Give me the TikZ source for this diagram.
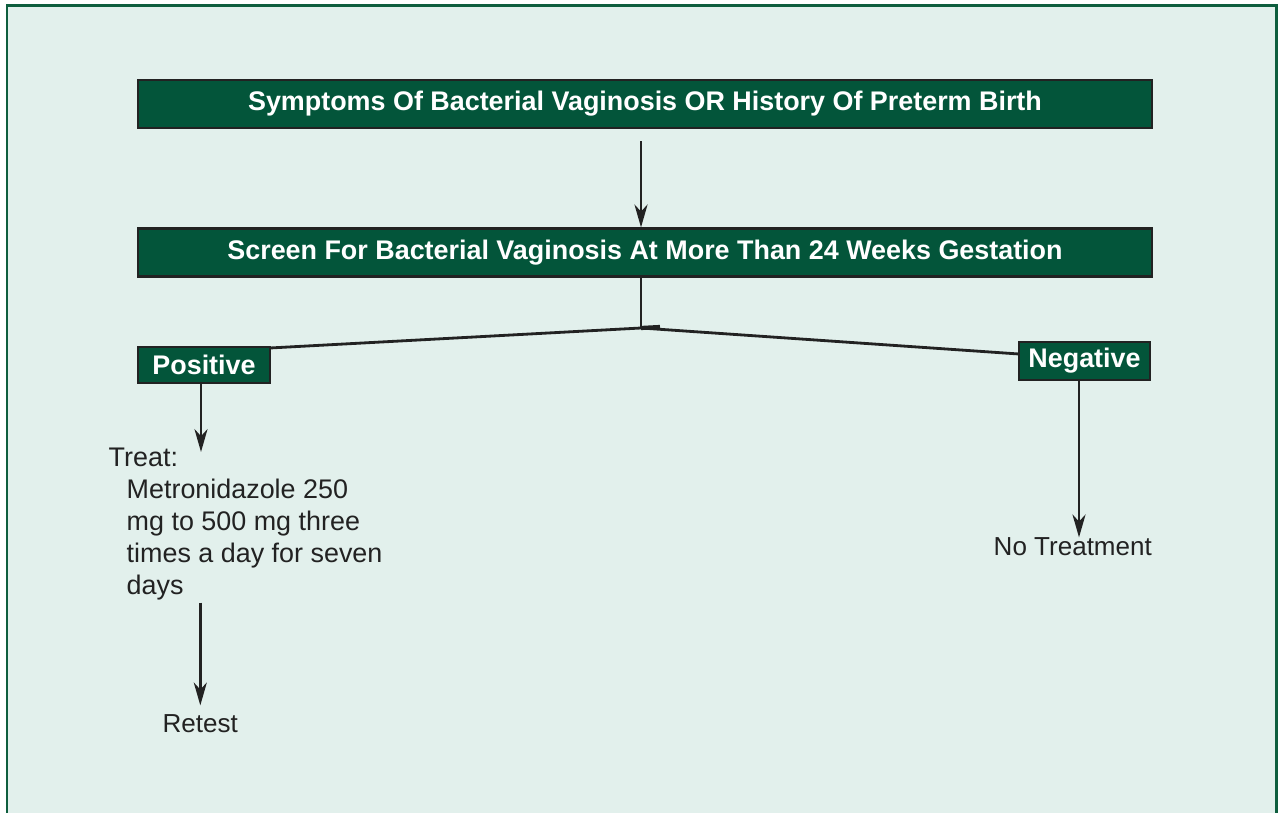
\documentclass[tikz,border=0pt]{standalone}
\usepackage{fontspec}
\setmainfont{Liberation Sans}
\usetikzlibrary{arrows.meta,calc}
\definecolor{darkgreen}{HTML}{03553A}
\definecolor{framegreen}{HTML}{0E5E3E}
\definecolor{mint}{HTML}{E2F0EC}
\definecolor{inkgray}{HTML}{222222}

\begin{document}
\begin{tikzpicture}[x=0.01cm,y=-0.01cm,
    greenbox/.style={draw=inkgray, line width=0.6pt, fill=darkgreen, text=white,
      font=\fontsize{7.65}{9}\selectfont\bfseries, inner sep=0pt},
    plaintext/.style={text=inkgray, font=\fontsize{7.4}{9.05}\selectfont, inner sep=0pt},
    link/.style={draw=inkgray, line width=0.8pt},
    arrow/.style={link, -{Stealth[length=6.5pt,width=3.7pt,inset=2pt]}}]
    \useasboundingbox (0,0) rectangle (1280,813);
    % background and frame
    \fill[mint] (7,6) rectangle (1276,813);
    \draw[framegreen, line width=0.85pt] (7,813) -- (7,6) -- (1276,6) -- (1276,813);
    % boxes
    \node[greenbox, minimum width=10.14cm, minimum height=0.48cm] (sym) at (645,104)
      {Symptoms Of Bacterial Vaginosis OR History Of Preterm Birth};
    \node[greenbox, minimum width=10.14cm, minimum height=0.48cm] (scr) at (645,252.5)
      {Screen For Bacterial Vaginosis At More Than 24 Weeks Gestation};
    \node[greenbox, minimum width=1.32cm, minimum height=0.36cm] (pos) at (204,365) {Positive};
    \node[greenbox, minimum width=1.31cm, minimum height=0.38cm] (neg) at (1084.5,361) {Negative};
    \coordinate (split) at (641,328);
    % texts
    \node[plaintext, font=\fontsize{7.65}{9.1}\selectfont, anchor=north west, align=left] (treat) at (108,447)
      {Treat:\\
       \hspace*{0.18cm}Metronidazole 250\\
       \hspace*{0.18cm}mg to 500 mg three\\
       \hspace*{0.18cm}times a day for seven\\
       \hspace*{0.18cm}days};
    \node[plaintext, anchor=base west] (retest) at (162,732) {Retest};
    \node[plaintext, anchor=base west] (notreat) at (993,555) {No Treatment};
    % connectors
    \draw[arrow, shorten <=0.12cm] (split |- sym.south) -- (split |- scr.north);
    \draw[link] (split |- scr.south) -- (split);
    \draw[link] (split) -- ($(pos.north east)+(0,2)$);
    \draw[link] (split) -- ($(neg.north west)+(0,13)$);
    \draw[link, line width=1.2pt] (split) -- ++(19,-1);
    \draw[arrow] ([xshift=-0.03cm]pos.south) -- ($([xshift=-0.03cm]pos.south |- treat.north)+(0,5)$);
    \draw[arrow] ([yshift=-0.02cm]treat.south -| retest.north) -- ($(retest.north)+(0,-8)$);
    \draw[arrow] ([xshift=-0.055cm]neg.south) -- ($([xshift=-0.055cm]neg.south |- notreat.north)+(0,1)$);
\end{tikzpicture}
\end{document}
